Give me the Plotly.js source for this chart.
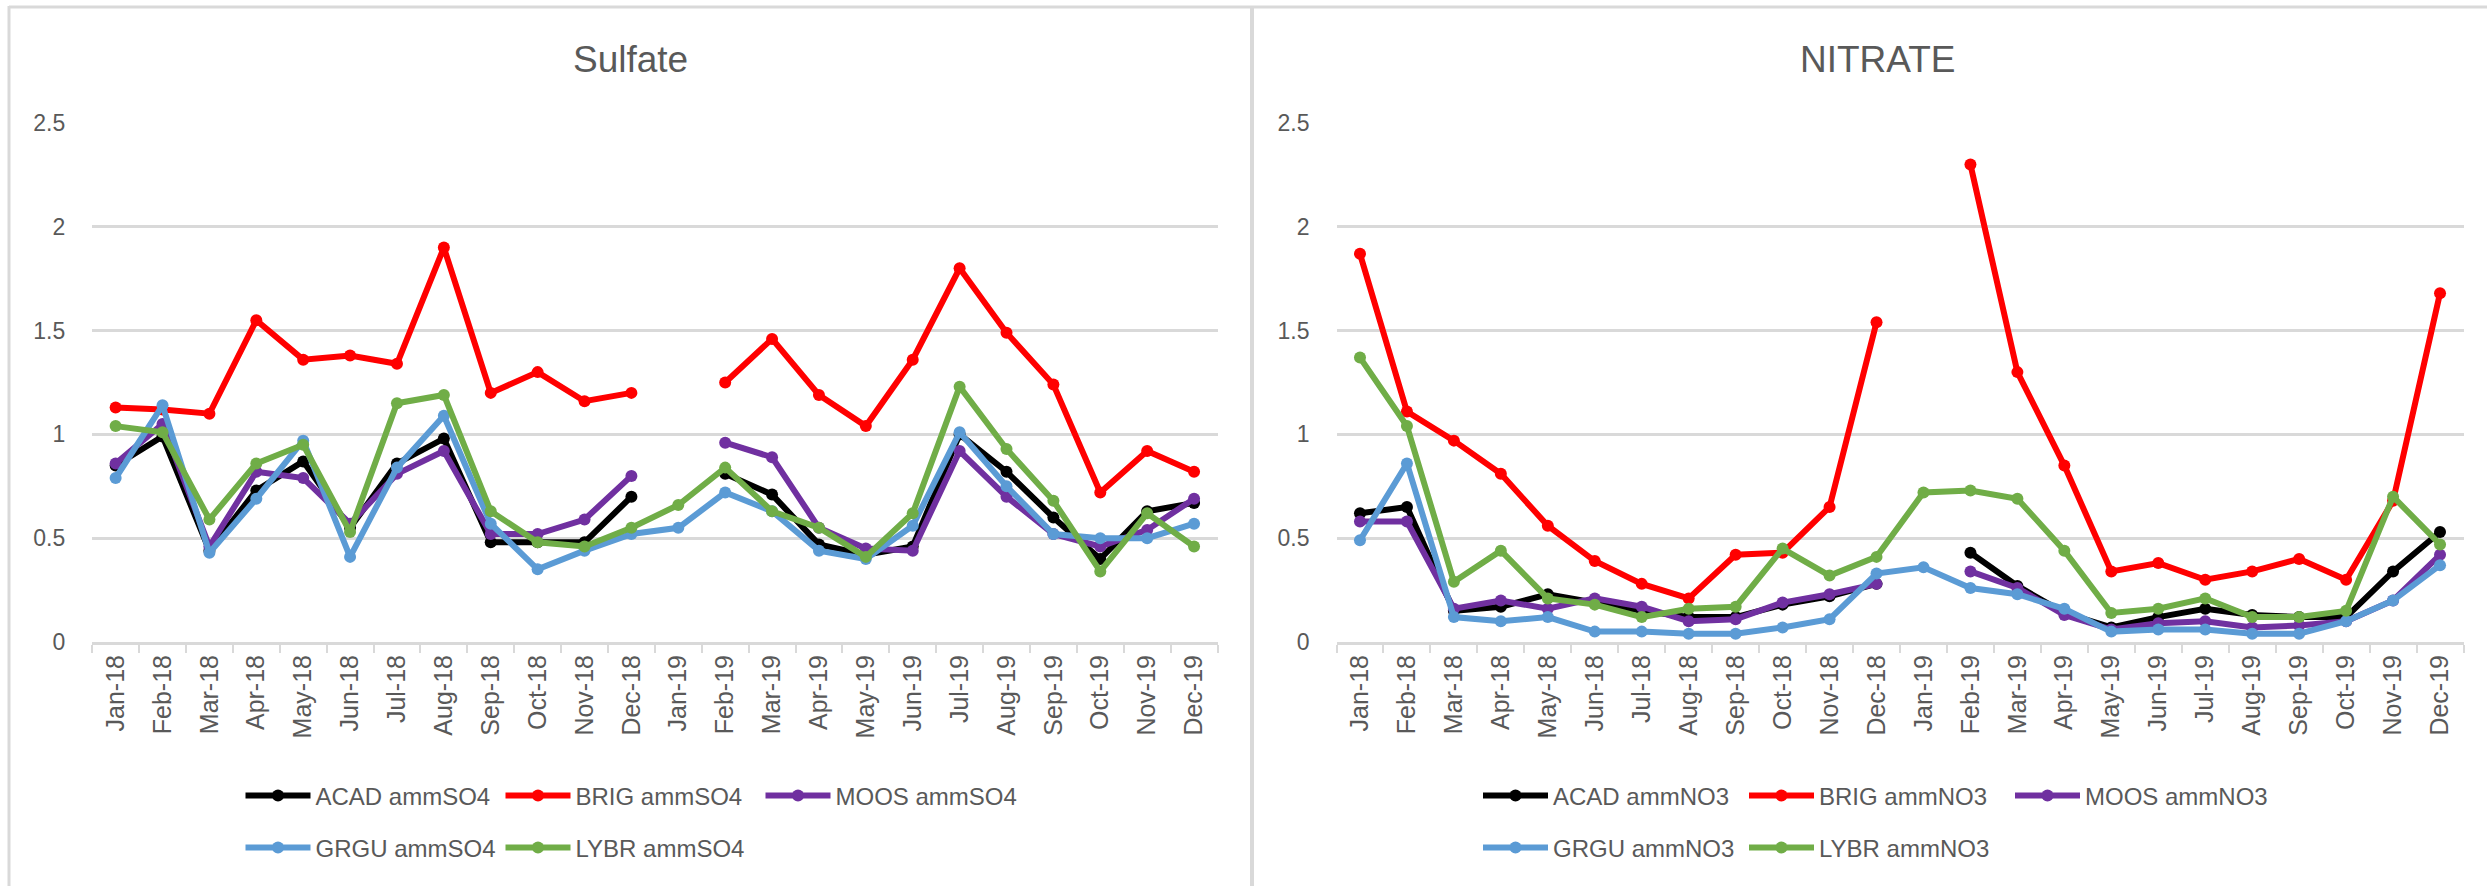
<!DOCTYPE html>
<html>
<head>
<meta charset="utf-8">
<script src="https://cdn.plot.ly/plotly-3.0.1.min.js"></script>
<style>
html,body{margin:0;padding:0;background:#fff;}
#chart{width:2487px;height:886px;}
</style>
</head>
<body>
<div id="chart"></div>
<script>
// ---- data ----
const months = ['Jan-18','Feb-18','Mar-18','Apr-18','May-18','Jun-18','Jul-18','Aug-18','Sep-18','Oct-18','Nov-18','Dec-18',
                'Jan-19','Feb-19','Mar-19','Apr-19','May-19','Jun-19','Jul-19','Aug-19','Sep-19','Oct-19','Nov-19','Dec-19'];
const yTicks = [0, 0.5, 1, 1.5, 2, 2.5];
const yTickText = ['0', '0.5', '1', '1.5', '2', '2.5'];

const so4_ACAD = [0.85,0.99,0.44,0.73,0.87,0.55,0.86,0.98,0.48,0.48,0.48,0.70,null,0.81,0.71,0.47,0.42,0.46,1.00,0.82,0.60,0.40,0.63,0.67];
const so4_BRIG = [1.13,1.12,1.10,1.55,1.36,1.38,1.34,1.90,1.20,1.30,1.16,1.20,null,1.25,1.46,1.19,1.04,1.36,1.80,1.49,1.24,0.72,0.92,0.82];
const so4_MOOS = [0.86,1.05,0.46,0.82,0.79,0.57,0.81,0.92,0.52,0.52,0.59,0.80,null,0.96,0.89,0.55,0.45,0.44,0.92,0.70,0.52,0.46,0.54,0.69];
const so4_GRGU = [0.79,1.14,0.43,0.69,0.97,0.41,0.84,1.09,0.57,0.35,0.44,0.52,0.55,0.72,0.63,0.44,0.40,0.56,1.01,0.75,0.52,0.50,0.50,0.57];
const so4_LYBR = [1.04,1.01,0.59,0.86,0.95,0.53,1.15,1.19,0.63,0.48,0.46,0.55,0.66,0.84,0.63,0.55,0.41,0.62,1.23,0.93,0.68,0.34,0.62,0.46];

const no3_ACAD = [0.62,0.65,0.15,0.17,0.23,0.19,0.15,0.12,0.12,0.18,0.22,0.28,null,0.43,0.27,0.14,0.07,0.12,0.16,0.13,0.12,0.12,0.34,0.53];
const no3_BRIG = [1.87,1.11,0.97,0.81,0.56,0.39,0.28,0.21,0.42,0.43,0.65,1.54,null,2.30,1.30,0.85,0.34,0.38,0.30,0.34,0.40,0.30,0.68,1.68];
const no3_MOOS = [0.58,0.58,0.16,0.20,0.16,0.21,0.17,0.10,0.11,0.19,0.23,0.28,null,0.34,0.26,0.13,0.06,0.09,0.10,0.07,0.08,0.10,0.20,0.42];
const no3_GRGU = [0.49,0.86,0.12,0.10,0.12,0.05,0.05,0.04,0.04,0.07,0.11,0.33,0.36,0.26,0.23,0.16,0.05,0.06,0.06,0.04,0.04,0.10,0.20,0.37];
const no3_LYBR = [1.37,1.04,0.29,0.44,0.21,0.18,0.12,0.16,0.17,0.45,0.32,0.41,0.72,0.73,0.69,0.44,0.14,0.16,0.21,0.12,0.12,0.15,0.70,0.47];

const so4_names = ['ACAD ammSO4','BRIG ammSO4','MOOS ammSO4','GRGU ammSO4','LYBR ammSO4'];
const no3_names = ['ACAD ammNO3','BRIG ammNO3','MOOS ammNO3','GRGU ammNO3','LYBR ammNO3'];
const chartTitles = ['Sulfate', 'NITRATE'];

// ---- styling ----
const colors = ['#000000','#FF0000','#7030A0','#5B9BD5','#70AD47'];
const W = 2487, H = 886;
const px = v => v / W;
const py = v => (H - v) / H;
const gray = '#595959';
const grid = '#D9D9D9';
const FONT = '"Liberation Sans", Arial, sans-serif';

function makeTraces(series, names, xa, ya, legA, legB) {
  return series.map((s, i) => ({
    type: 'scatter', mode: 'lines+markers',
    x: months, y: s, name: names[i],
    xaxis: xa, yaxis: ya,
    legend: i < 3 ? legA : legB,
    line: {color: colors[i], width: 6},
    marker: {color: colors[i], size: 12, symbol: 'circle'},
    connectgaps: false,
    hoverinfo: 'x+y+name'
  }));
}

const traces = [].concat(
  makeTraces([so4_ACAD, so4_BRIG, so4_MOOS, so4_GRGU, so4_LYBR], so4_names, 'x', 'y', 'legend', 'legend2'),
  makeTraces([no3_ACAD, no3_BRIG, no3_MOOS, no3_GRGU, no3_LYBR], no3_names, 'x2', 'y2', 'legend3', 'legend4')
);

function xAxis(domain, anchor) {
  return {
    domain: domain, anchor: anchor, type: 'category',
    categoryorder: 'array', categoryarray: months,
    range: [-0.5, 23.5],
    showgrid: false, zeroline: false,
    showline: true, linecolor: grid, linewidth: 3,
    ticks: 'outside', tickson: 'boundaries', ticklen: 8, tickwidth: 2, tickcolor: grid,
    tickangle: -90,
    tickfont: {family: FONT, size: 25, color: gray},
    fixedrange: true
  };
}
function yAxis(anchor) {
  return {
    domain: [py(642), py(123)], anchor: anchor,
    range: [0, 2.5], tickmode: 'array', tickvals: yTicks, ticktext: yTickText,
    showgrid: true, gridcolor: grid, gridwidth: 3,
    zeroline: false, showline: false, ticks: '',
    ticklabelstandoff: 26,
    tickfont: {family: FONT, size: 23, color: gray},
    fixedrange: true
  };
}
function legendAt(x, yc, ew) {
  return {
    orientation: 'h', x: px(x), y: py(yc), xanchor: 'left', yanchor: 'middle',
    entrywidth: ew, entrywidthmode: 'pixels', itemwidth: 65,
    font: {family: FONT, size: 24, color: gray},
    bgcolor: 'rgba(0,0,0,0)', borderwidth: 0, traceorder: 'normal'
  };
}

const layout = {
  width: W, height: H,
  margin: {l: 0, r: 0, t: 0, b: 0, pad: 0},
  paper_bgcolor: '#FFFFFF', plot_bgcolor: '#FFFFFF',
  showlegend: true,
  xaxis: xAxis([px(92.2), px(1217.5)], 'y'),
  yaxis: yAxis('x'),
  xaxis2: xAxis([px(1336.5), px(2463.5)], 'y2'),
  yaxis2: yAxis('x2'),
  legend: legendAt(240.5, 796, 180),
  legend2: legendAt(240.5, 848, 180),
  legend3: legendAt(1478, 796, 186),
  legend4: legendAt(1478, 848, 186),
  annotations: [
    {text: chartTitles[0], xref: 'paper', yref: 'paper', x: px(630), y: py(60), xanchor: 'center', yanchor: 'middle',
     showarrow: false, font: {family: FONT, size: 37, color: gray}},
    {text: chartTitles[1], xref: 'paper', yref: 'paper', x: px(1878), y: py(60), xanchor: 'center', yanchor: 'middle',
     showarrow: false, font: {family: FONT, size: 37, color: gray}}
  ],
  shapes: [
    {type: 'line', xref: 'paper', yref: 'paper', x0: px(9), x1: px(2487), y0: py(7), y1: py(7), line: {color: grid, width: 3}},
    {type: 'line', xref: 'paper', yref: 'paper', x0: px(9), x1: px(9), y0: py(6), y1: 0, line: {color: grid, width: 3}},
    {type: 'line', xref: 'paper', yref: 'paper', x0: px(1252), x1: px(1252), y0: py(6), y1: 0, line: {color: grid, width: 4}}
  ]
};

Plotly.newPlot('chart', traces, layout, {staticPlot: true, displayModeBar: false});
</script>
</body>
</html>
